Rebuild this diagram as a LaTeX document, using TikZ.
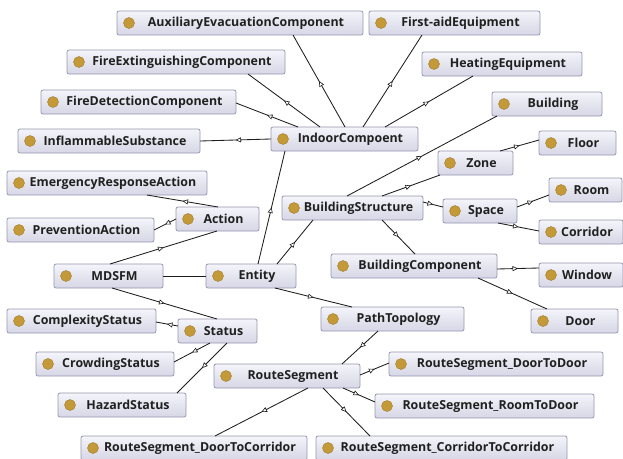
\documentclass[tikz,border=0pt]{standalone}
\usepackage{fontspec}
\setmainfont{Open Sans}
\usetikzlibrary{arrows.meta,decorations.markings,calc}
\definecolor{boxtop}{HTML}{F4F4FA}
\definecolor{boxbot}{HTML}{D6D6E6}
\definecolor{boxline}{HTML}{9898B2}
\definecolor{dotfill}{HTML}{C49A38}
\definecolor{dotline}{HTML}{A07A2C}
\definecolor{edgecol}{HTML}{1E1E1E}
\definecolor{txtcol}{HTML}{202020}
\tikzset{
  clsbox/.style={draw=boxline, line width=0.8pt, rounded corners=2pt, top color=boxtop, bottom color=boxbot, inner sep=0pt, outer sep=0pt, anchor=north west, minimum height=24pt},
  clsdot/.style={fill=dotfill, draw=dotline, line width=0.4pt},
  clstext/.style={font=\bfseries\fontsize{12.4}{13}\selectfont, text=txtcol, inner sep=0pt},
  isa/.style={draw=edgecol, line width=0.85pt, postaction={decorate}, decoration={markings, mark=at position 0.5 with {\arrow{Triangle[fill=white, length=5.5pt, width=5pt, line width=0.6pt]}}}},
  plainedge/.style={draw=edgecol, line width=0.85pt},
}
\newcommand\cls[5]{%
  \node[clsbox, minimum width=#4pt] (#1) at (#2,#3) {};
  \fill[clsdot] ($(#1.west)+(12,0)$) circle (5.5pt);
  \node[clstext] (#1-t) at ($(#1.center)+(6,0)$) {#5};
}
\newcommand\nw[3]{($(#1.north west)+(#2,#3)$)}
\begin{document}
\begin{tikzpicture}[x=1pt,y=-1pt]
\useasboundingbox (0,0) rectangle (623,458);
\fill[white] (0,0) rectangle (623,458);
\clip (0,0) rectangle (623,458);
\cls{aux}{117}{11}{246}{AuxiliaryEvacuationComponent}
\cls{firstaid}{369}{11}{171}{First-aidEquipment}
\cls{fireext}{67}{50}{218}{FireExtinguishingComponent}
\cls{heating}{422}{52}{160}{HeatingEquipment}
\cls{firedet}{41}{90}{195}{FireDetectionComponent}
\cls{building}{492}{92}{110}{Building}
\cls{inflam}{18}{129}{182}{InflammableSubstance}
\cls{indoor}{271}{127}{147}{IndoorCompoent}
\cls{floor}{539}{131}{77}{Floor}
\cls{zone}{438}{151}{75}{Zone}
\cls{emerg}{7}{171}{200}{EmergencyResponseAction}
\cls{action}{176}{207}{83}{Action}
\cls{prevent}{7}{218}{147}{PreventionAction}
\cls{bstruct}{282}{196}{141}{BuildingStructure}
\cls{space}{443}{199}{74}{Space}
\cls{room}{549}{178}{73}{Room}
\cls{corridor}{539}{220}{84}{Corridor}
\cls{mdsfm}{54}{264}{109}{MDSFM}
\cls{entity}{206}{264}{90}{Entity}
\cls{bcomp}{331}{254}{166}{BuildingComponent}
\cls{window}{539}{263}{84}{Window}
\cls{door}{531}{309}{87}{Door}
\cls{path}{321}{307}{143}{PathTopology}
\cls{complex}{7}{309}{149}{ComplexityStatus}
\cls{status}{178}{319}{79}{Status}
\cls{crowd}{36}{352}{138}{CrowdingStatus}
\cls{rseg}{214}{364}{146}{RouteSegment}
\cls{dtd}{389}{352}{214}{RouteSegment\_DoorToDoor}
\cls{hazard}{58}{393}{128}{HazardStatus}
\cls{rtd}{375}{394}{219}{RouteSegment\_RoomToDoor}
\cls{dtc}{81}{436}{226}{RouteSegment\_DoorToCorridor}
\cls{ctc}{316}{436}{251}{RouteSegment\_CorridorToCorridor}
% edges
\draw[isa] \nw{indoor}{74}{0} -- \nw{aux}{176}{24};
\draw[isa] \nw{indoor}{92}{0} -- \nw{firstaid}{53}{24};
\draw[isa] \nw{indoor}{114}{0} -- \nw{heating}{51}{24};
\draw[isa] \nw{indoor}{49}{0} -- \nw{fireext}{181}{24};
\draw[isa] \nw{indoor}{27}{0} -- \nw{firedet}{195}{13};
\draw[isa] \nw{indoor}{0}{12} -- \nw{inflam}{182}{12};
\draw[isa] \nw{entity}{52}{0} -- \nw{indoor}{14}{24};
\draw[isa] \nw{entity}{71}{0} -- \nw{bstruct}{31}{24};
\draw[isa] \nw{bstruct}{65}{0} -- \nw{building}{5}{24};
\draw[isa] \nw{bstruct}{100}{0} -- \nw{zone}{2}{24};
\draw[isa] \nw{zone}{62}{0} -- \nw{floor}{0}{9};
\draw[isa] \nw{bstruct}{141}{6} -- \nw{space}{0}{8};
\draw[isa] \nw{space}{74}{8} -- \nw{room}{0}{17};
\draw[isa] \nw{space}{55}{24} -- \nw{corridor}{0}{11};
\draw[isa] \nw{bstruct}{100}{24} -- \nw{bcomp}{84}{0};
\draw[isa] \nw{bcomp}{166}{15} -- \nw{window}{0}{5};
\draw[isa] \nw{bcomp}{147}{24} -- \nw{door}{16}{0};
\draw[isa] \nw{entity}{69}{24} -- \nw{path}{31}{0};
\draw[plainedge] (mdsfm.east) -- (entity.west);
\draw[isa] \nw{mdsfm}{56}{0} -- \nw{action}{41}{24};
\draw[isa] \nw{action}{42}{0} -- \nw{emerg}{140}{24};
\draw[isa] \nw{action}{0}{12} -- \nw{prevent}{147}{12};
\draw[isa] \nw{mdsfm}{58}{24} -- \nw{status}{39}{0};
\draw[isa] \nw{status}{0}{7} -- \nw{complex}{149}{13};
\draw[isa] \nw{status}{32}{24} -- \nw{crowd}{138}{10};
\draw[isa] \nw{status}{49}{24} -- \nw{hazard}{119}{0};
\draw[isa] \nw{path}{57}{24} -- \nw{rseg}{128}{0};
\draw[isa] \nw{rseg}{146}{11} -- \nw{dtd}{0}{11};
\draw[isa] \nw{rseg}{129}{24} -- \nw{rtd}{0}{8};
\draw[isa] \nw{rseg}{109}{24} -- \nw{ctc}{54}{0};
\draw[isa] \nw{rseg}{94}{24} -- \nw{dtc}{134}{0};
\end{tikzpicture}
\end{document}
